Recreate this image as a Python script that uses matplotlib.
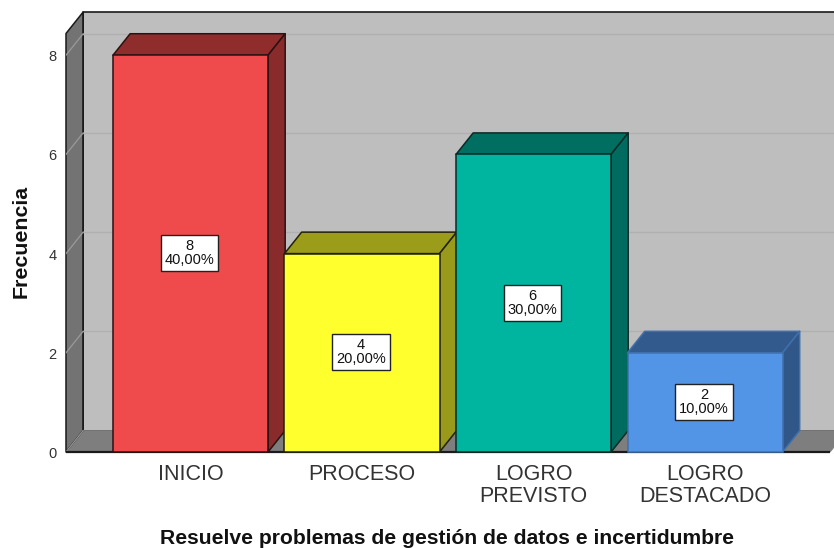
import matplotlib
matplotlib.use("Agg")
import matplotlib.pyplot as plt
from matplotlib.patches import Polygon
from matplotlib.transforms import ScaledTranslation

plt.rcParams["font.family"] = ["Liberation Sans", "DejaVu Sans"]

categories = ["INICIO", "PROCESO", "LOGRO\nPREVISTO", "LOGRO\nDESTACADO"]
counts = [8, 4, 6, 2]
percents = ["40,00%", "20,00%", "30,00%", "10,00%"]
front_colors = ["#EF4B4C", "#FFFF2D", "#00B5A0", "#5294E6"]
top_colors = ["#8F2D2D", "#9C9C1B", "#006F62", "#335A8D"]
side_colors = ["#8A2B2B", "#99991A", "#006C5F", "#315789"]
edge_colors = ["#2a1212", "#22220c", "#0c2a26", "#3F70AE"]
y_ticks = [0, 2, 4, 6, 8]

W, H = 834, 548
fig = plt.figure(figsize=(W / 100, H / 100), dpi=100, facecolor="white")
ax = fig.add_axes([66 / W, (H - 452) / H, (W - 66) / W, 440 / H])

# One category step is 171.5 px, one frequency unit is 49.6 px.
ax.set_xlim(-0.726, 3.752)
ax.set_ylim(0, 8.871)
for spine in ax.spines.values():
    spine.set_visible(False)
ax.patch.set_visible(False)

dx, dy = 0.1, 0.433          # oblique depth of the 3D box
bar_w = 0.904
xl, xr = -0.726, 3.73        # floor extent
yt = 8.438                   # top of the frame on the front plane
edge = "#1a1a1a"


def face(pts, color, z, lw=1.1, ec=edge):
    ax.add_patch(Polygon(pts, closed=True, facecolor=color, edgecolor=ec,
                         linewidth=lw, zorder=z, clip_on=False,
                         joinstyle="round"))


# Back wall, left wall and floor
face([(xl + dx, dy), (xr + dx, dy), (xr + dx, yt + dy), (xl + dx, yt + dy)], "#BEBEBE", 1, lw=1.2)
face([(xl, 0), (xl + dx, dy), (xl + dx, yt + dy), (xl, yt)], "#737373", 2)
face([(xl, 0), (xr, 0), (xr + dx, dy), (xl + dx, dy)], "#7E7E7E", 2, ec="#7E7E7E", lw=0.5)
ax.plot([xl, xl + dx, xl + dx], [0, dy, yt + dy], color=edge, lw=1.0, zorder=3)

# Gridlines run along the back wall and slant down the left wall
for t in y_ticks[1:]:
    ax.plot([xl + dx, xr + dx], [t + dy, t + dy], color="#B0B0B0", lw=1.0, zorder=3)
    ax.plot([xl, xl + dx], [t, t + dy], color="#9A9A9A", lw=0.9, zorder=3)
ax.plot([xl, xl + dx], [0, dy], color="#9A9A9A", lw=0.9, zorder=3)

ax.plot([xl, xr], [0, 0], color=edge, lw=1.6, zorder=3.5, clip_on=False, solid_capstyle="butt")

# Bars: top and side faces first, then the front face and its label
for i, v in enumerate(counts):
    x0, x1 = i - bar_w / 2, i + bar_w / 2
    ec = edge_colors[i]
    face([(x0, v), (x1, v), (x1 + dx, v + dy), (x0 + dx, v + dy)], top_colors[i], 4, ec=ec)
    face([(x1, 0), (x1 + dx, dy), (x1 + dx, v + dy), (x1, v)], side_colors[i], 4, ec=ec)
    face([(x0, 0), (x1, 0), (x1, v), (x0, v)], front_colors[i], 5, ec=ec)
    ax.text(i - 0.006, v / 2 + 0.01, f"{v}\n{percents[i]}", ha="center", va="center",
            fontsize=10.5, color="#111111", linespacing=1.03, zorder=6,
            bbox=dict(boxstyle="square,pad=0.26", facecolor="white",
                      edgecolor="#222222", linewidth=1.0))

ax.set_xticks(range(len(categories)))
ax.set_xticklabels(categories, fontsize=15.5, color="#333333", linespacing=1.06)
ax.set_yticks(y_ticks)
ax.tick_params(axis="x", length=0, pad=8.5)
ax.tick_params(axis="y", length=0, pad=7, labelsize=10.5, labelcolor="#333333")

# Nudge the frequency labels slightly below their gridline level
nudge = ScaledTranslation(0, -2 / 100, fig.dpi_scale_trans)
for lab in ax.get_yticklabels():
    lab.set_verticalalignment("center")
    lab.set_transform(lab.get_transform() + nudge)

fig.text(447 / W, 1 - 539 / H, "Resuelve problemas de gestión de datos e incertidumbre",
         ha="center", va="center", fontsize=15.2, fontweight="bold", color="#111111")
fig.text(21 / W, 1 - 241 / H, "Frecuencia", rotation=90, ha="center", va="center",
         fontsize=15.4, fontweight="bold", color="#111111")

fig.savefig("out.png", dpi=100, facecolor="white")
